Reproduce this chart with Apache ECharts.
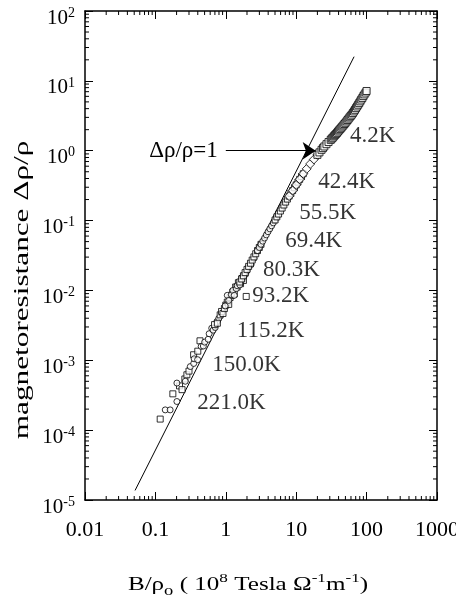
<!DOCTYPE html>
<html>
<head>
<meta charset="utf-8">
<script src="https://cdn.jsdelivr.net/npm/echarts@6/dist/echarts.min.js"></script>
<style>
html, body { margin: 0; padding: 0; background: #fff; }
#chart { width: 456px; height: 602px; }
</style>
</head>
<body>
<div id="chart"></div>
<script>
// axis ranges and tick labels
var X_MIN = 0.01, X_MAX = 1000;
var Y_MIN = 1e-5, Y_MAX = 100;
var xTickLabels = ['0.01', '0.1', '1', '10', '100', '1000'];
var yTickExponents = ['-5', '-4', '-3', '-2', '-1', '0', '1', '2'];
var xDecades = [0.01, 0.1, 1, 10, 100];
var yDecades = [1e-5, 1e-4, 1e-3, 0.01, 0.1, 1, 10];
var minorSteps = [2, 3, 4, 5, 6, 7, 8, 9];

// Kohler plot data, [B/rho0, drho/rho]
var t4_2 = [[20.0, 0.871], [21.4, 0.946], [22.9, 1.03], [24.0, 1.09], [25.1, 1.15], [26.9, 1.24], [28.8, 1.33],
  [30.9, 1.43], [32.0, 1.49], [33.1, 1.54], [34.3, 1.61], [35.5, 1.67], [36.7, 1.73], [38.0, 1.80],
  [39.3, 1.88], [40.7, 1.96], [42.2, 2.04], [43.7, 2.13], [45.2, 2.22], [46.8, 2.31], [48.4, 2.41],
  [50.1, 2.51], [51.9, 2.63], [53.7, 2.75], [55.6, 2.88], [57.5, 3.01], [59.6, 3.15], [61.7, 3.29],
  [63.9, 3.46], [66.1, 3.65], [68.4, 3.85], [70.8, 4.07], [73.3, 4.30], [75.9, 4.55], [78.5, 4.80],
  [81.3, 5.09], [84.0, 5.40], [87.1, 5.70], [90.0, 6.05], [93.3, 6.40], [97.0, 6.80], [100, 7.16]];
var t42_4 = [[7.94, 0.224], [8.91, 0.269], [10.0, 0.324], [11.2, 0.389], [12.6, 0.468], [14.1, 0.550],
  [15.8, 0.646], [17.8, 0.750], [20.0, 0.871]];
var t55_5 = [[5.01, 0.102], [5.31, 0.113], [5.62, 0.124], [5.96, 0.137], [6.31, 0.151], [6.68, 0.167],
  [7.08, 0.184], [7.50, 0.203], [7.94, 0.224], [8.41, 0.245], [8.91, 0.269], [9.44, 0.295],
  [10.0, 0.324], [10.6, 0.355], [11.2, 0.389], [11.9, 0.427], [12.6, 0.468]];
var t69_4 = [[2.82, 0.0372], [2.99, 0.0412], [3.16, 0.0457], [3.35, 0.0507], [3.55, 0.0562], [3.76, 0.0624],
  [3.98, 0.0692], [4.22, 0.0762], [4.47, 0.0841], [4.73, 0.0927], [5.01, 0.102], [5.31, 0.113]];
var t80_3 = [[1.58, 0.0132], [1.68, 0.0146], [1.78, 0.0162], [1.88, 0.0180], [2.00, 0.0200], [2.11, 0.0221],
  [2.24, 0.0245], [2.37, 0.0272], [2.51, 0.0302], [2.66, 0.0335], [2.82, 0.0372], [2.99, 0.0412],
  [3.16, 0.0457]];
var t93_2 = [[0.98, 0.0060], [1.05, 0.0085], [1.10, 0.0072], [1.20, 0.0087], [1.26, 0.0100], [1.32, 0.0085],
  [1.41, 0.0106], [1.45, 0.0117], [1.58, 0.0120], [1.66, 0.0141], [1.74, 0.0155], [1.82, 0.0168],
  [1.91, 0.0170], [2.00, 0.0190], [2.09, 0.0214], [2.29, 0.0234], [2.51, 0.0288]];
var t115_2 = [[0.692, 0.00324], [0.759, 0.00339], [0.832, 0.00447], [0.871, 0.0050], [0.912, 0.00468],
  [0.955, 0.0055], [1.00, 0.00617], [1.05, 0.0068], [1.10, 0.00631], [1.15, 0.0079], [1.20, 0.00851],
  [1.26, 0.0095], [1.32, 0.00891], [1.38, 0.0112], [1.45, 0.0112], [1.51, 0.0129], [1.62, 0.0125],
  [1.70, 0.0148], [1.78, 0.0139], [1.95, 0.0082]];
var t150_0 = [[0.138, 1.95e-4], [0.162, 1.95e-4], [0.202, 2.57e-4], [0.202, 4.72e-4], [0.266, 5.01e-4],
  [0.313, 8.13e-4], [0.35, 9.0e-4], [0.355, 1.05e-3], [0.398, 1.02e-3], [0.447, 1.58e-3], [0.48, 1.6e-3],
  [0.501, 1.82e-3], [0.562, 2.0e-3], [0.58, 2.4e-3], [0.631, 2.88e-3], [0.66, 2.7e-3], [0.708, 2.95e-3],
  [0.75, 3.6e-3], [0.794, 3.98e-3]];
var t221_0 = [[0.117, 1.44e-4], [0.177, 3.31e-4], [0.22, 4.3e-4], [0.239, 3.80e-4], [0.262, 5.4e-4],
  [0.28, 6.2e-4], [0.30, 7.0e-4], [0.349, 1.20e-3], [0.40, 1.35e-3], [0.43, 1.9e-3]];

// straight reference line (slope 2) and the drho/rho = 1 arrow
var refLine = [[0.0514, 1.37e-5], [66.4, 22.2]];
var arrowFrom = [1.0, 1];
var arrowTo = [18.9, 1];

// temperature labels and where they sit
var tempLabels = ['4.2K', '42.4K', '55.5K', '69.4K', '80.3K', '93.2K', '115.2K', '150.0K', '221.0K'];
var labelX = [122, 52.2, 28.0, 17.7, 8.59, 6.0, 4.32, 1.96, 1.20];
var labelY = [1.63, 0.358, 0.129, 0.0513, 0.0197, 0.00838, 0.00264, 8.63e-4, 2.47e-4];

var FONT = '"Liberation Serif", "Times New Roman", serif';
var MINOR_LEN = 4;

var xMinor = [];
xDecades.forEach(function (d) { minorSteps.forEach(function (m) { xMinor.push(d * m); }); });
var yMinor = [];
yDecades.forEach(function (d) { minorSteps.forEach(function (m) { yMinor.push(d * m); }); });

function expOf(v) { return Math.round(Math.log10(v)); }

function scatter(name, data, symbol, size) {
  return {
    name: name, type: 'scatter', data: data, symbol: symbol, symbolSize: size,
    itemStyle: { color: '#fff', borderColor: '#000', borderWidth: 1 },
    z: 3
  };
}

function logAxis(pos, min, max, split, showLabel, formatter, margin) {
  return {
    type: 'log', logBase: 10, min: min, max: max, splitNumber: split, position: pos,
    axisLine: { show: true, lineStyle: { color: '#000', width: 1.5 } },
    axisTick: { show: true, inside: true, length: 8, lineStyle: { color: '#000', width: 1 } },
    splitLine: { show: false },
    minorTick: { show: false },
    axisLabel: {
      show: showLabel, margin: margin, color: '#000', fontSize: 22, fontFamily: FONT,
      showMinLabel: true, showMaxLabel: true, formatter: formatter
    }
  };
}

var chart = echarts.init(document.getElementById('chart'));

var yLabelAxis = logAxis('left', Y_MIN, Y_MAX, 7, true, function (v) {
  return '{b|10}{s|' + yTickExponents[expOf(v) + 5] + '}';
}, 10);
yLabelAxis.axisLabel.padding = [14, 0, 0, 0];
yLabelAxis.axisLabel.rich = {
  b: { fontSize: 21, fontFamily: FONT, color: '#000', lineHeight: 24 },
  s: { fontSize: 14, fontFamily: FONT, color: '#000', lineHeight: 14, verticalAlign: 'top' }
};

chart.setOption({
  animation: false,
  backgroundColor: '#fff',
  grid: { left: 85, right: 19, top: 11, bottom: 102, outerBoundsMode: 'none' },
  xAxis: [
    logAxis('bottom', X_MIN, X_MAX, 5, true, function (v) { return xTickLabels[expOf(v) + 2]; }, 19),
    logAxis('top', X_MIN, X_MAX, 5, false, null, 8)
  ],
  yAxis: [
    yLabelAxis,
    logAxis('right', Y_MIN, Y_MAX, 7, false, null, 8)
  ],
  graphic: [
    {
      type: 'text', x: 22, y: 290, rotation: Math.PI / 2, scaleX: 1.42,
      style: {
        text: 'magnetoresistance Δρ/ρ', fontSize: 22, fontFamily: FONT, fill: '#000',
        align: 'center', verticalAlign: 'middle'
      }
    },
    {
      type: 'text', x: 248, y: 585, scaleX: 1.32,
      style: {
        text: 'B/ρ{sub|o} ( 10{sup|8} Tesla Ω{sup|-1}m{sup|-1})',
        fontSize: 19, fontFamily: FONT, fill: '#000', lineHeight: 26,
        align: 'center', verticalAlign: 'middle',
        rich: {
          sub: { fontSize: 14, fontFamily: FONT, fill: '#000', lineHeight: 14, verticalAlign: 'bottom' },
          sup: { fontSize: 13, fontFamily: FONT, fill: '#000', lineHeight: 13, verticalAlign: 'top' }
        }
      }
    }
  ],
  series: [
    {
      type: 'line', data: refLine, symbol: 'none', showSymbol: false, silent: true,
      lineStyle: { color: '#000', width: 1 }, z: 2,
      markLine: {
        silent: true, animation: false, symbol: ['none', 'arrow'], symbolSize: 13,
        lineStyle: { color: '#000', width: 1, type: 'solid' },
        label: {
          show: true, position: 'start', formatter: 'Δρ/ρ=1', color: '#000',
          fontSize: 23, fontFamily: FONT, distance: 8
        },
        data: [[{ coord: arrowFrom }, { coord: arrowTo }]]
      }
    },
    scatter('221.0K', t221_0, 'rect', 6),
    scatter('150.0K', t150_0, 'circle', 6),
    scatter('115.2K', t115_2, 'rect', 6),
    scatter('93.2K', t93_2, 'circle', 6),
    scatter('80.3K', t80_3, 'rect', 6),
    scatter('69.4K', t69_4, 'circle', 6),
    scatter('55.5K', t55_5, 'rect', 6),
    scatter('42.4K', t42_4, 'diamond', 9),
    scatter('4.2K', t4_2, 'rect', 7),
    {
      type: 'scatter', symbolSize: 0, silent: true,
      data: tempLabels.map(function (t, i) { return { name: t, value: [labelX[i], labelY[i]] }; }),
      label: { show: true, position: 'inside', formatter: '{b}', color: '#000', fontSize: 23, fontFamily: FONT },
      z: 4
    },
    {
      type: 'custom', silent: true, z: 5,
      data: xMinor.map(function (v) { return [v, Y_MIN]; }),
      renderItem: function (params, api) {
        var v = api.value(0);
        var b = api.coord([v, Y_MIN]);
        var t = api.coord([v, Y_MAX]);
        return {
          type: 'group', children: [
            { type: 'line', shape: { x1: b[0], y1: b[1], x2: b[0], y2: b[1] - MINOR_LEN }, style: { stroke: '#000', lineWidth: 1 } },
            { type: 'line', shape: { x1: t[0], y1: t[1], x2: t[0], y2: t[1] + MINOR_LEN }, style: { stroke: '#000', lineWidth: 1 } }
          ]
        };
      }
    },
    {
      type: 'custom', silent: true, z: 5,
      data: yMinor.map(function (v) { return [X_MIN, v]; }),
      renderItem: function (params, api) {
        var v = api.value(1);
        var l = api.coord([X_MIN, v]);
        var r = api.coord([X_MAX, v]);
        return {
          type: 'group', children: [
            { type: 'line', shape: { x1: l[0], y1: l[1], x2: l[0] + MINOR_LEN, y2: l[1] }, style: { stroke: '#000', lineWidth: 1 } },
            { type: 'line', shape: { x1: r[0], y1: r[1], x2: r[0] - MINOR_LEN, y2: r[1] }, style: { stroke: '#000', lineWidth: 1 } }
          ]
        };
      }
    }
  ]
});
</script>
</body>
</html>
